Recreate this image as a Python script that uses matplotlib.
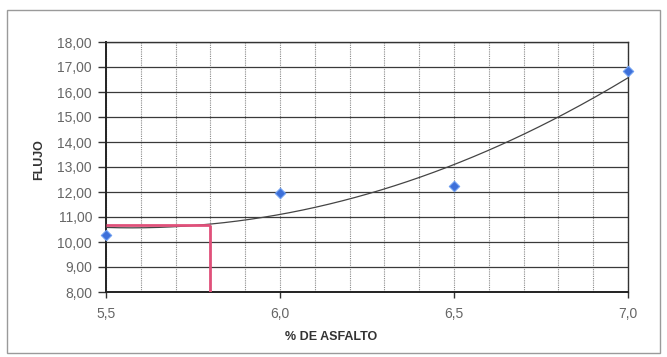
import numpy as np
import matplotlib
matplotlib.use("Agg")
import matplotlib.pyplot as plt
from matplotlib.patches import Rectangle
from matplotlib.ticker import MultipleLocator, FuncFormatter

asfalto = [5.5, 6.0, 6.5, 7.0]
flujo = [10.3, 11.95, 12.25, 16.85]
opt_x = 5.8
opt_y = 10.7
x_ticks = [5.5, 6.0, 6.5, 7.0]
y_ticks = [8, 9, 10, 11, 12, 13, 14, 15, 16, 17, 18]

plt.rcParams['font.family'] = ['Liberation Sans', 'DejaVu Sans']

fig = plt.figure(figsize=(6.67, 3.57), dpi=100)
fig.patch.set_facecolor('white')
fig.patches.append(Rectangle((7/667, 1-353/357), 653/667, 343/357, transform=fig.transFigure,
                             fill=False, edgecolor='#9a9a9a', linewidth=1.0))

ax = fig.add_axes([106/667, 1-292/357, 522/667, 250/357])
ax.set_xlim(5.5, 7.0)
ax.set_ylim(8, 18)

# grid
ax.xaxis.set_minor_locator(MultipleLocator(0.1))
ax.set_xticks(x_ticks)
ax.set_yticks(y_ticks)
ax.grid(which='major', axis='y', color='#3a3a3a', linewidth=0.9, linestyle='-')
ax.grid(which='minor', axis='x', color='#8a8a8a', linewidth=0.8, linestyle=(0, (1, 1)))
ax.grid(which='major', axis='x', color='#8a8a8a', linewidth=0.8, linestyle=(0, (1, 1)))
ax.set_axisbelow(True)

# trendline (polynomial order 2)
coef = np.polyfit(asfalto, flujo, 2)
xs = np.linspace(5.5, 7.0, 200)
ax.plot(xs, np.polyval(coef, xs), color='#444444', linewidth=0.9, zorder=3)

# red optimum lines
ax.plot([5.5, opt_x], [opt_y, opt_y], color='#e0507a', linewidth=2.0, zorder=4, solid_capstyle='butt')
ax.plot([opt_x, opt_x], [8, opt_y], color='#e0507a', linewidth=2.0, zorder=4, solid_capstyle='butt')

# data points
ax.scatter(asfalto, flujo, marker='D', s=28, color='#3d6fd9', edgecolors='#6f9ff0',
           linewidths=0.8, zorder=5, clip_on=False)

for s in ['top', 'right']:
    ax.spines[s].set_color('#333333')
    ax.spines[s].set_linewidth(1.0)
for s in ['left', 'bottom']:
    ax.spines[s].set_color('#222222')
    ax.spines[s].set_linewidth(1.4)

ax.yaxis.set_major_formatter(FuncFormatter(lambda v, p: f"{v:.2f}".replace('.', ',')))
ax.xaxis.set_major_formatter(FuncFormatter(lambda v, p: f"{v:.1f}".replace('.', ',')))
ax.tick_params(axis='both', which='major', labelsize=10, labelcolor='#666666', color='#333333')
ax.tick_params(axis='y', which='major', length=6, width=1.0, pad=4)
ax.tick_params(axis='x', which='major', length=4, width=1.0, pad=7)
ax.tick_params(axis='x', which='minor', length=0)

fig.text(331/667, 1-337/357, '% DE ASFALTO', ha='center', va='center',
         fontsize=9, fontweight='bold', color='#333333')
fig.text(39/667, 1-160/357, 'FLUJO', ha='center', va='center', rotation=90,
         fontsize=9, fontweight='bold', color='#333333')

fig.savefig('out.png', dpi=100, facecolor='white')
